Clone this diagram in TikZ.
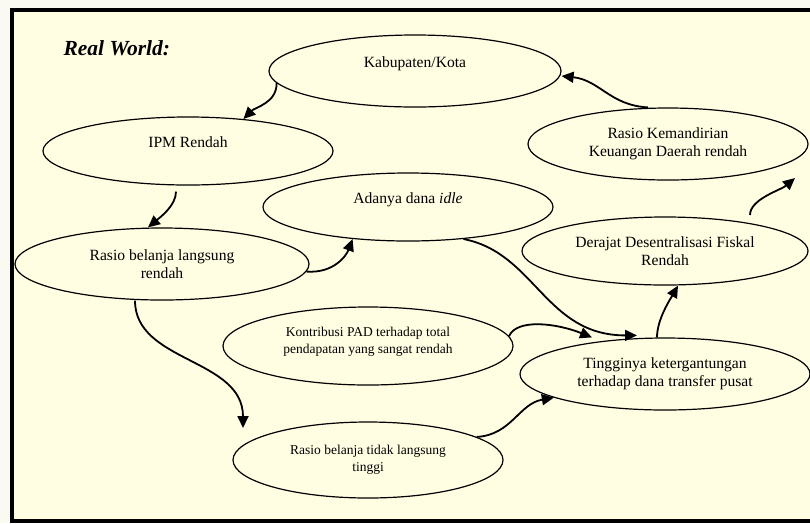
\documentclass[tikz,border=0pt]{standalone}
\usepackage{fontspec}
\setmainfont{Liberation Serif}
\usetikzlibrary{positioning,shapes.geometric,arrows.meta}
\definecolor{paper}{RGB}{255,253,226}
\definecolor{margin}{RGB}{250,250,242}

\begin{document}
\begin{tikzpicture}[x=1pt,y=-1pt,
  box/.style={draw=black,line width=1.2pt,shape=ellipse,inner sep=0pt,align=center,
    font=\fontsize{15.6}{18}\selectfont},
  smallbox/.style={box,font=\fontsize{13.5}{17}\selectfont},
  link/.style={line width=1.8pt,-{Triangle[length=12pt,width=11pt]}}]
\useasboundingbox (0,0) rectangle (810,523);
\fill[margin] (0,0) rectangle (810,523);
\draw[line width=4.5pt,fill=paper] (815,10) -- (12,10) -- (12,521) -- (815,521);

\node[anchor=base west,font=\fontsize{21.5}{25}\selectfont\bfseries\itshape] (title) at (60,55) {Real World:};

% the causes
\node[box,minimum width=292pt,minimum height=72pt] (kab) at (415,71) {Kabupaten/Kota\\\mbox{}};
\node[box,minimum width=290pt,minimum height=68pt] (ipm) at (188,151) {IPM Rendah\\\mbox{}};
\node[box,minimum width=280pt,minimum height=72pt] (rkd) at (668,144) {Rasio Kemandirian\\Keuangan Daerah rendah};
\node[box,minimum width=290pt,minimum height=68pt] (ada) at (408,207) {Adanya dana \textit{idle}\\\mbox{}};
\node[box,minimum width=294pt,minimum height=72pt] (rbl) at (162,264) {Rasio belanja langsung\\rendah};
\node[box,minimum width=286pt,minimum height=68pt] (drj) at (665,251) {Derajat Desentralisasi Fiskal\\Rendah};
\node[smallbox,minimum width=290pt,minimum height=78pt] (kon) at (368,346) {Kontribusi PAD terhadap total\\pendapatan yang sangat rendah\\[-6pt]\mbox{}};
\node[box,minimum width=290pt,minimum height=72pt] (tgi) at (665,374) {Tingginya ketergantungan\\terhadap dana transfer pusat};
\node[smallbox,minimum width=270pt,minimum height=76pt] (rbt) at (368,460) {Rasio belanja tidak langsung\\tinggi};

% the loop
\draw[link] (kab.185) .. controls +(0,20) and +(12,-12) .. (ipm.30);
\draw[link] ([xshift=-12pt,yshift=-6pt]ipm.south) .. controls +(0,14) and +(12,-10) .. ([xshift=-14pt]rbl.north);
\draw[link] (rbl.-3) .. controls +(28,2) and +(-6,16) .. (ada.210);
\draw[link] ([xshift=-27pt]rbl.south) .. controls +(0,62) and +(0,-70) .. ([xshift=-125pt,yshift=32pt]rbt.center);
\draw[link] (ada.-30) .. controls +(72,14) and +(-92,0) .. ([xshift=-28pt,yshift=2pt]tgi.north);
\draw[link] (kon.4) .. controls +(8,-18) and +(-35,-14) .. ([xshift=-73pt]tgi.north);
\draw[link] (rbt.12) .. controls +(35,-2) and +(-35,6) .. (tgi.192);
\draw[link] ([xshift=-8pt]tgi.north) .. controls +(0,-18) and +(-8,14) .. ([xshift=13pt]drj.south);
\draw[link] ([xshift=85pt,yshift=36pt]drj.center) .. controls +(0,-16) and +(-14,12) .. ([xshift=127pt,yshift=-34pt]rkd.center);
\draw[link] ([xshift=-20pt]rkd.north) .. controls +(-38,-2) and +(38,4) .. ([yshift=-5pt]kab.east);
\end{tikzpicture}
\end{document}
